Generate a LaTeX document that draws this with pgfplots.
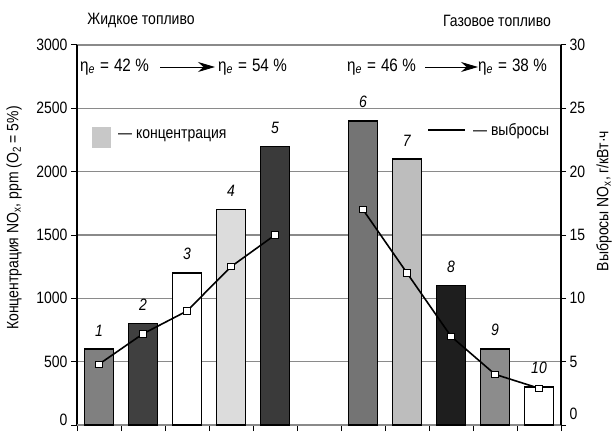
\documentclass[border=0pt]{standalone}
\usepackage{fontspec}
\setmainfont{Liberation Sans}[FakeStretch=0.85]
\usepackage{pgfplots}
\pgfplotsset{compat=1.18}
\usetikzlibrary{arrows.meta}
\definecolor{c1}{HTML}{808080}
\definecolor{c2}{HTML}{404040}
\definecolor{c4}{HTML}{DCDCDC}
\definecolor{c5}{HTML}{3A3A3A}
\definecolor{c6}{HTML}{747474}
\definecolor{c7}{HTML}{BDBDBD}
\definecolor{c8}{HTML}{1E1E1E}
\definecolor{c9}{HTML}{8C8C8C}
\definecolor{gridc}{HTML}{8A8A8A}
\definecolor{legc}{HTML}{C8C8C8}
\newcommand{\fs}{\fontsize{16.5}{19}\selectfont}
\newcommand{\fe}{\fontsize{18}{21}\selectfont}
\newcommand{\effic}[1]{η\textsubscript{\textit{e}}\hspace{5bp}=\hspace{5bp}#1\hspace{4.5bp}\%}
\begin{document}
\begin{tikzpicture}
\path[use as bounding box] (0,0) rectangle (614bp,432bp);
\pgfplotsset{
  common/.style={
    at={(77bp,7bp)}, anchor=south west,
    width=484bp, height=380bp, scale only axis,
    xmin=-0.5, xmax=10.5,
    tick align=outside,
    tick style={black, line width=1pt},
    major tick length=5bp,
    tick label style={font=\fontsize{16.5}{19}\selectfont},
    /pgf/number format/assume math mode=true,
    /pgf/number format/1000 sep={},
    axis line style={black, line width=1.6pt},
  },
  bar/.style={ybar, bar width=0.66, bar shift=0pt, draw=black, line width=1.1pt,
    nodes near coords={\textit{#1}},
    every node near coord/.append style={font=\fs, black, anchor=south, yshift=9bp}},
}
\begin{axis}[common,
  ymin=0, ymax=3000,
  ytick={500,1000,...,3000},
  extra y ticks={0},
  extra y tick style={yticklabel style={yshift=5bp}},
  xtick={-0.5,0.5,...,10.5}, xticklabels={},
  major tick length=6bp,
  axis x line*=bottom, axis y line*=left,
  ymajorgrids, grid style={gridc, line width=1.2pt},
]
\addplot[bar=1, fill=c1] coordinates {(0,600)};
\addplot[bar=2, fill=c2] coordinates {(1,800)};
\addplot[bar=3, fill=white] coordinates {(2,1200)};
\addplot[bar=4, fill=c4] coordinates {(3,1700)};
\addplot[bar=5, fill=c5] coordinates {(4,2200)};
\addplot[bar=6, fill=c6] coordinates {(6,2400)};
\addplot[bar=7, fill=c7] coordinates {(7,2100)};
\addplot[bar=8, fill=c8] coordinates {(8,1100)};
\addplot[bar=9, fill=c9] coordinates {(9,600)};
\addplot[bar=10, fill=white] coordinates {(10,300)};
\end{axis}
\begin{axis}[common,
  ymin=0, ymax=30,
  ytick={5,10,...,30},
  extra y ticks={0},
  extra y tick style={yticklabel style={yshift=11bp}},
  axis y line*=right, axis x line=none,
]
\addplot[black, line width=1.6pt, mark=square*, mark size=3.2bp,
  mark options={fill=white, draw=black, line width=0.8pt}]
  coordinates {(0,4.8) (1,7.2) (2,9.0) (3,12.5) (4,15.0)};
\addplot[black, line width=1.6pt, mark=square*, mark size=3.2bp,
  mark options={fill=white, draw=black, line width=0.8pt}]
  coordinates {(6,17.0) (7,12.0) (8,7.0) (9,4.0) (10,2.9)};
\end{axis}
% titles
\node[font=\fs] at (141bp,412bp) {Жидкое топливо};
\node[font=\fs] at (497bp,411bp) {Газовое топливо};
% axis labels
\node[font=\fs, rotate=90] at (14bp,214bp) {Концентрация NO\textsubscript{x}, ppm (O\textsubscript{2} = 5\%)};
\node[font=\fs, rotate=90] at (604bp,231bp) {Выбросы NO\textsubscript{x}, г/кВт·ч};
% efficiency annotations
\node[font=\fe, anchor=west, inner sep=0pt] at (80bp,365bp) {\effic{42}};
\draw[-{Stealth[length=17bp,width=10bp]}, line width=0.9pt] (160bp,365bp) -- (215bp,365bp);
\node[font=\fe, anchor=west, inner sep=0pt] at (218bp,365bp) {\effic{54}};
\node[font=\fe, anchor=west, inner sep=0pt] at (347bp,365bp) {\effic{46}};
\draw[-{Stealth[length=17bp,width=10bp]}, line width=0.9pt] (425bp,365bp) -- (478bp,365bp);
\node[font=\fe, anchor=west, inner sep=0pt] at (478bp,365bp) {\effic{38}};
% legend
\fill[legc] (92bp,284bp) rectangle (111bp,305bp);
\node[font=\fs, anchor=west, inner sep=0pt] at (118bp,296bp) {— концентрация};
\draw[black, line width=2.5pt] (428bp,302bp) -- (465bp,302bp);
\node[font=\fs, anchor=west, inner sep=0pt] at (473bp,301bp) {— выбросы};
\end{tikzpicture}
\end{document}
